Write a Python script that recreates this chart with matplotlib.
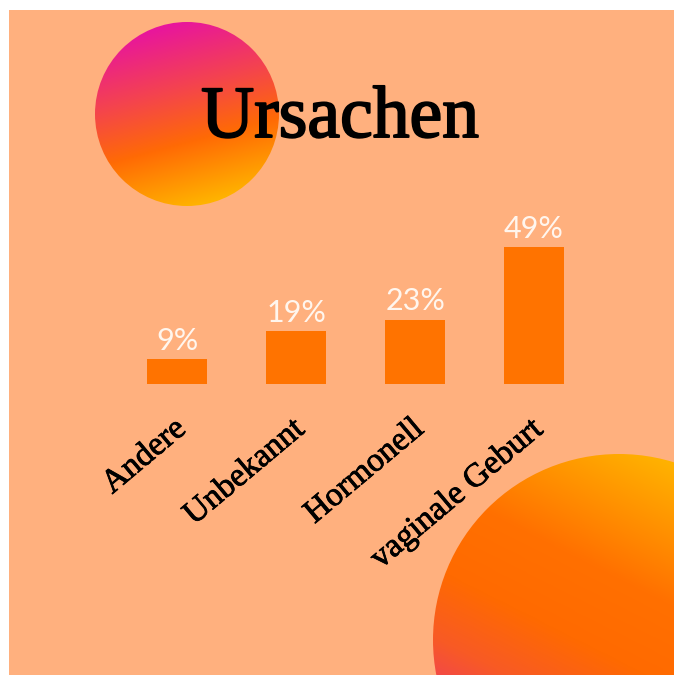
import numpy as np
import matplotlib
matplotlib.use("Agg")
import matplotlib.pyplot as plt
import matplotlib.transforms as mtransforms
import matplotlib.patheffects as pe
from matplotlib.colors import LinearSegmentedColormap
from matplotlib.patches import Circle, Rectangle

# ---- data ----
categories = ["Andere", "Unbekannt", "Hormonell", "vaginale Geburt"]
values = [9, 19, 23, 49]
title = "Ursachen"

W, H = 674, 675
fig = plt.figure(figsize=(W / 100, H / 100), dpi=100, facecolor="white")

# background axes in pixel coordinates (y down)
bg = fig.add_axes([0, 0, 1, 1])
bg.set_xlim(0, W)
bg.set_ylim(H, 0)
bg.axis("off")

PEACH = "#FFB07E"
bg.add_patch(Rectangle((9, 10), W - 9, H - 10, facecolor=PEACH, edgecolor="none", zorder=0))


def gradient_circle(ax, cx, cy, r, direction, stops):
    n = 400
    xs = np.linspace(cx - r, cx + r, n)
    ys = np.linspace(cy - r, cy + r, n)
    xx, yy = np.meshgrid(xs, ys)
    d = np.array(direction, float)
    d /= np.linalg.norm(d)
    t = ((xx - cx) * d[0] + (yy - cy) * d[1]) / r
    t = (t + 1) / 2
    cmap = LinearSegmentedColormap.from_list("g", stops)
    im = ax.imshow(t, cmap=cmap, vmin=0, vmax=1, extent=(cx - r, cx + r, cy + r, cy - r),
                   origin="upper", aspect="auto", interpolation="bilinear", zorder=1)
    circ = Circle((cx, cy), r, transform=ax.transData, facecolor="none", edgecolor="none")
    ax.add_patch(circ)
    im.set_clip_path(circ)


gradient_circle(bg, 187, 114, 92, (0.26, 0.97),
                [(0.0, "#E8159E"), (0.35, "#F4434F"), (0.65, "#FF6A05"), (1.0, "#FFB400")])
gradient_circle(bg, 619, 640, 186, (-0.45, 0.89),
                [(0.0, "#FFB400"), (0.35, "#FF7000"), (0.55, "#FF6A00"), (0.72, "#F85A25"),
                 (0.85, "#F04255"), (1.0, "#E8307A")])
bg.set_xlim(0, W)
bg.set_ylim(H, 0)

bg.text(340, 137, title, ha="center", va="baseline", fontsize=53,
        family="Liberation Serif", color="black", zorder=3,
        path_effects=[pe.withStroke(linewidth=1.4, foreground="black")])

# bar axes
left_px, width_px = 117.9, 475.6
base_px, ymax = 384, 60
px_per = 2.8
height_px = ymax * px_per
ax = fig.add_axes([left_px / W, (H - base_px) / H, width_px / W, height_px / H])
ax.patch.set_alpha(0)
ax.set_xlim(-0.5, 3.5)
ax.set_ylim(0, ymax)
x = np.arange(len(categories))
ax.bar(x, values, width=0.505, color="#FF7300", zorder=2)
for xi, v in zip(x, values):
    ax.annotate(f"{v}%", (xi, v), xytext=(0, 3), textcoords="offset points",
                ha="center", va="bottom", fontsize=22, color="#FFF6EE",
                family="Lato")
for s in ax.spines.values():
    s.set_visible(False)
ax.set_yticks([])
ax.set_xticks(x)
ax.set_xticklabels(categories, rotation=40, ha="right", rotation_mode="anchor",
                   family="Liberation Serif", fontsize=24, color="black")
ax.tick_params(axis="x", length=0, pad=21)
shift = mtransforms.ScaledTranslation(-5 / 100, 0, fig.dpi_scale_trans)
for lbl in ax.get_xticklabels():
    lbl.set_transform(lbl.get_transform() + shift)
    lbl.set_path_effects([pe.withStroke(linewidth=0.6, foreground="black")])

fig.savefig("out.png", dpi=100, facecolor="white")
